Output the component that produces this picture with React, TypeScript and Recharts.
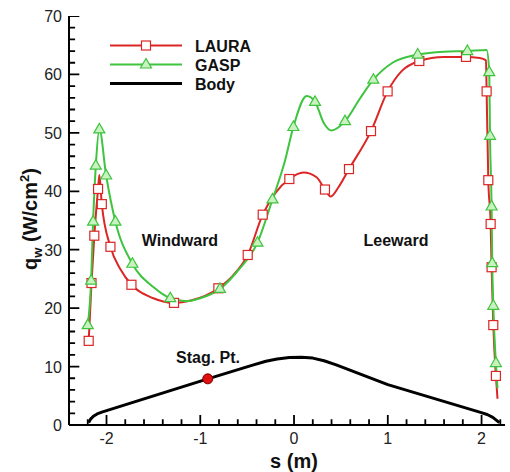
import React from 'react';
import { ComposedChart, Line, XAxis, YAxis } from 'recharts';

const RED = '#dc2626';
const GREEN = '#3ec43e';
const TRI_FILL = '#c9f2c0';

// LAURA: square markers (s in m, q in W/cm2)
const lauraMarks = [
  { s: -2.19, q: 14.4 }, { s: -2.16, q: 24.3 }, { s: -2.13, q: 32.4 }, { s: -2.09, q: 40.4 },
  { s: -2.05, q: 37.8 }, { s: -1.958, q: 30.5 }, { s: -1.734, q: 24.0 }, { s: -1.28, q: 20.9 },
  { s: -0.807, q: 23.4 }, { s: -0.494, q: 29.1 }, { s: -0.334, q: 36.0 }, { s: -0.05, q: 42.1 },
  { s: 0.33, q: 40.3 }, { s: 0.586, q: 43.8 }, { s: 0.821, q: 50.3 }, { s: 0.998, q: 57.1 },
  { s: 1.336, q: 62.3 }, { s: 1.834, q: 63.0 }, { s: 2.054, q: 57.1 }, { s: 2.072, q: 41.9 },
  { s: 2.097, q: 34.4 }, { s: 2.107, q: 27.0 }, { s: 2.125, q: 17.1 }, { s: 2.153, q: 8.4 }
];

// LAURA: extra points of the curve between markers
const lauraCurve = [
  { s: -2.076, q: 42.8 }, { s: -1.85, q: 26.6 }, { s: -1.5, q: 21.7 }, { s: -1.1, q: 21.3 },
  { s: -0.65, q: 25.6 }, { s: -0.2, q: 39.7 }, { s: 0.1, q: 43.2 }, { s: 0.24, q: 42.4 },
  { s: 0.39, q: 39.1 }, { s: 0.47, q: 40.6 }, { s: 1.15, q: 60.6 }, { s: 1.6, q: 63.0 },
  { s: 1.98, q: 62.8 }, { s: 2.047, q: 62.4 }, { s: 2.17, q: 4.5 }
];

// GASP: triangle markers
const gaspMarks = [
  { s: -2.2, q: 17.1 }, { s: -2.164, q: 24.7 }, { s: -2.143, q: 34.8 }, { s: -2.114, q: 44.4 },
  { s: -2.076, q: 50.6 }, { s: -2.004, q: 42.7 }, { s: -1.905, q: 34.8 }, { s: -1.724, q: 27.6 },
  { s: -1.32, q: 21.7 }, { s: -0.79, q: 23.3 }, { s: -0.39, q: 31.2 }, { s: -0.23, q: 38.6 },
  { s: -0.007, q: 51.0 }, { s: 0.224, q: 55.3 }, { s: 0.544, q: 52.0 }, { s: 0.846, q: 59.1 },
  { s: 1.319, q: 63.4 }, { s: 1.848, q: 64.0 }, { s: 2.082, q: 60.4 }, { s: 2.09, q: 49.5 },
  { s: 2.107, q: 37.4 }, { s: 2.114, q: 27.7 }, { s: 2.125, q: 20.4 }, { s: 2.153, q: 10.6 }
];

// GASP: extra points of the curve between markers
const gaspCurve = [
  { s: -1.5, q: 23.6 }, { s: -1.15, q: 21.2 }, { s: -1.0, q: 21.7 }, { s: -0.6, q: 26.4 },
  { s: -0.1, q: 45.0 }, { s: 0.135, q: 56.3 }, { s: 0.32, q: 51.6 }, { s: 0.4, q: 50.4 },
  { s: 0.7, q: 55.8 }, { s: 1.05, q: 62.0 }, { s: 1.6, q: 63.9 }, { s: 2.054, q: 64.2 },
  { s: 2.17, q: 6.3 }
];

// body outline
const bodyShape = [
  { s: -2.19, q: 0.4 }, { s: -2.17, q: 1.0 }, { s: -2.14, q: 1.5 }, { s: -2.1, q: 1.9 },
  { s: -2.05, q: 2.2 }, { s: -0.92, q: 7.9 }, { s: -0.45, q: 10.2 }, { s: -0.3, q: 10.9 },
  { s: -0.18, q: 11.3 }, { s: -0.05, q: 11.55 }, { s: 0.08, q: 11.6 }, { s: 0.2, q: 11.45 },
  { s: 0.32, q: 11.0 }, { s: 0.45, q: 10.3 }, { s: 1.0, q: 6.9 }, { s: 1.98, q: 2.2 },
  { s: 2.06, q: 1.8 }, { s: 2.12, q: 1.3 }, { s: 2.16, q: 0.8 }, { s: 2.19, q: 0.4 }
];

const stagPoint = [{ s: -0.92, q: 7.9 }];

const xTicks = [-2.2, -2, -1.8, -1.6, -1.4, -1.2, -1, -0.8, -0.6, -0.4, -0.2, 0,
  0.2, 0.4, 0.6, 0.8, 1, 1.2, 1.4, 1.6, 1.8, 2, 2.2];
const yTicks = [0, 2, 4, 6, 8, 10, 12, 14, 16, 18, 20, 22, 24, 26, 28, 30, 32, 34, 36, 38,
  40, 42, 44, 46, 48, 50, 52, 54, 56, 58, 60, 62, 64, 66, 68, 70];

const X_MIN = -2.4;
const X_MAX = 2.25;

const bySide = (a: { s: number }, b: { s: number }) => a.s - b.s;
const lauraLine = [...lauraMarks, ...lauraCurve].sort(bySide);
const gaspLine = [...gaspMarks, ...gaspCurve].sort(bySide);

const isWholeX = (v: number) => Math.abs(v - Math.round(v)) < 1e-6;
const isWholeY = (v: number) => v % 10 === 0;

// inward tick marks as broken segments (null breaks the line), lengths in axis units
const xTickMarks = xTicks.flatMap((t) => [
  { s: t, q: 0 }, { s: t, q: isWholeX(t) ? 1.7 : 1.0 }, { s: t, q: null }
]);
const yTickMarks = yTicks.flatMap((t) => [
  { s: X_MIN, q: t }, { s: X_MIN + (isWholeY(t) ? 0.11 : 0.065), q: t }, { s: X_MIN, q: null }
]);

const FONT = '"Liberation Sans", Arial, sans-serif';

const Square = (props: any) => {
  const { cx, cy, index } = props;
  return <rect key={`sq-${index}`} x={cx - 4.5} y={cy - 4.5} width={9} height={9}
    fill="#fff" stroke={RED} strokeWidth={1.2} />;
};

const Triangle = (props: any) => {
  const { cx, cy, index } = props;
  return <polygon key={`tr-${index}`}
    points={`${cx},${cy - 6} ${cx - 5.5},${cy + 3.5} ${cx + 5.5},${cy + 3.5}`}
    fill={TRI_FILL} stroke={GREEN} strokeWidth={1.2} />;
};

const StagDot = (props: any) => {
  const { cx, cy, index } = props;
  return <circle key={`st-${index}`} cx={cx} cy={cy} r={5} fill="#e01010" stroke="#7a0000" strokeWidth={1} />;
};

// labels only on the whole values
const XTick = (props: any) => {
  const { x, y, payload } = props;
  const v = payload.value;
  if (!isWholeX(v)) return <g />;
  return (
    <text x={x} y={y + 19} textAnchor="middle" fontSize={16} fontFamily={FONT} fill="#222">
      {Math.round(v)}
    </text>
  );
};

const YTick = (props: any) => {
  const { x, y, payload } = props;
  const v = payload.value;
  if (!isWholeY(v)) return <g />;
  return (
    <text x={x - 7} y={y + 6} textAnchor="end" fontSize={16} fontFamily={FONT} fill="#222">
      {v}
    </text>
  );
};

export default function App() {
  return (
    <div style={{ position: 'absolute', left: 0, top: 0, width: 510, height: 472, background: '#fff' }}>
      {/* text layer sits behind the chart */}
      <svg width={510} height={472} style={{ position: 'absolute', left: 0, top: 0, zIndex: 0 }}
        fontFamily={FONT}>
        {/* legend */}
        <line x1={110} x2={182} y1={45.5} y2={45.5} stroke={RED} strokeWidth={2} />
        <rect x={141.5} y={41} width={9} height={9} fill="#fff" stroke={RED} strokeWidth={1.2} />
        <text x={195} y={51.5} fontSize={16} fontWeight="bold" fill="#111">LAURA</text>
        <line x1={110} x2={182} y1={64.5} y2={64.5} stroke={GREEN} strokeWidth={2} />
        <polygon points="146,58.5 140.5,68 151.5,68" fill={TRI_FILL} stroke={GREEN} strokeWidth={1.2} />
        <text x={195} y={70.5} fontSize={16} fontWeight="bold" fill="#111">GASP</text>
        <line x1={110} x2={182} y1={83.5} y2={83.5} stroke="#000" strokeWidth={3} />
        <text x={195} y={89.5} fontSize={16} fontWeight="bold" fill="#111">Body</text>

        {/* annotations */}
        <text x={180} y={246} textAnchor="middle" fontSize={16} fontWeight="bold" fill="#111">Windward</text>
        <text x={396} y={246} textAnchor="middle" fontSize={16} fontWeight="bold" fill="#111">Leeward</text>
        <text x={208} y={363} textAnchor="middle" fontSize={16} fontWeight="bold" fill="#111">Stag. Pt.</text>

        {/* axis titles */}
        <text x={294} y={468} textAnchor="middle" fontSize={20} fontWeight="bold" fill="#111">s (m)</text>
        <text transform="translate(37,219) rotate(-90)" textAnchor="middle" fontSize={20}
          fontWeight="bold" fill="#111">
          <tspan>q</tspan>
          <tspan dy={5} fontSize={13}>w</tspan>
          <tspan dy={-5}> (W/cm</tspan>
          <tspan dy={-8} fontSize={13}>2</tspan>
          <tspan dy={8}>)</tspan>
        </text>
      </svg>

      <div style={{ position: 'absolute', left: 0, top: 0, zIndex: 1 }}>
        <ComposedChart width={510} height={472} margin={{ top: 16, right: 5, bottom: 0, left: 0 }}>
          <XAxis type="number" dataKey="s" domain={[X_MIN, X_MAX]} allowDataOverflow ticks={xTicks}
            interval={0} tickSize={0} tickMargin={0} tickLine={false} tick={<XTick />} height={47}
            axisLine={{ stroke: '#000', strokeWidth: 2 }} />
          <YAxis type="number" dataKey="q" domain={[0, 70]} allowDataOverflow ticks={yTicks}
            interval={0} tickSize={0} tickMargin={0} tickLine={false} tick={<YTick />} width={69}
            axisLine={{ stroke: '#000', strokeWidth: 2 }} />

          <Line data={xTickMarks} dataKey="q" type="linear" stroke="#000" strokeWidth={1.8}
            dot={false} activeDot={false} isAnimationActive={false} />
          <Line data={yTickMarks} dataKey="q" type="linear" stroke="#000" strokeWidth={1.8}
            dot={false} activeDot={false} isAnimationActive={false} />

          <Line data={bodyShape} dataKey="q" type="linear" stroke="#000" strokeWidth={3}
            strokeLinejoin="round" dot={false} activeDot={false} isAnimationActive={false} />
          <Line data={stagPoint} dataKey="q" stroke="none" dot={StagDot} activeDot={false}
            isAnimationActive={false} />
          <Line data={lauraLine} dataKey="q" type="monotone" stroke={RED} strokeWidth={2}
            dot={false} activeDot={false} isAnimationActive={false} />
          <Line data={gaspLine} dataKey="q" type="monotone" stroke={GREEN} strokeWidth={2}
            dot={false} activeDot={false} isAnimationActive={false} />
          <Line data={lauraMarks} dataKey="q" stroke="none" dot={Square} activeDot={false}
            isAnimationActive={false} />
          <Line data={gaspMarks} dataKey="q" stroke="none" dot={Triangle} activeDot={false}
            isAnimationActive={false} />
        </ComposedChart>
      </div>
    </div>
  );
}
